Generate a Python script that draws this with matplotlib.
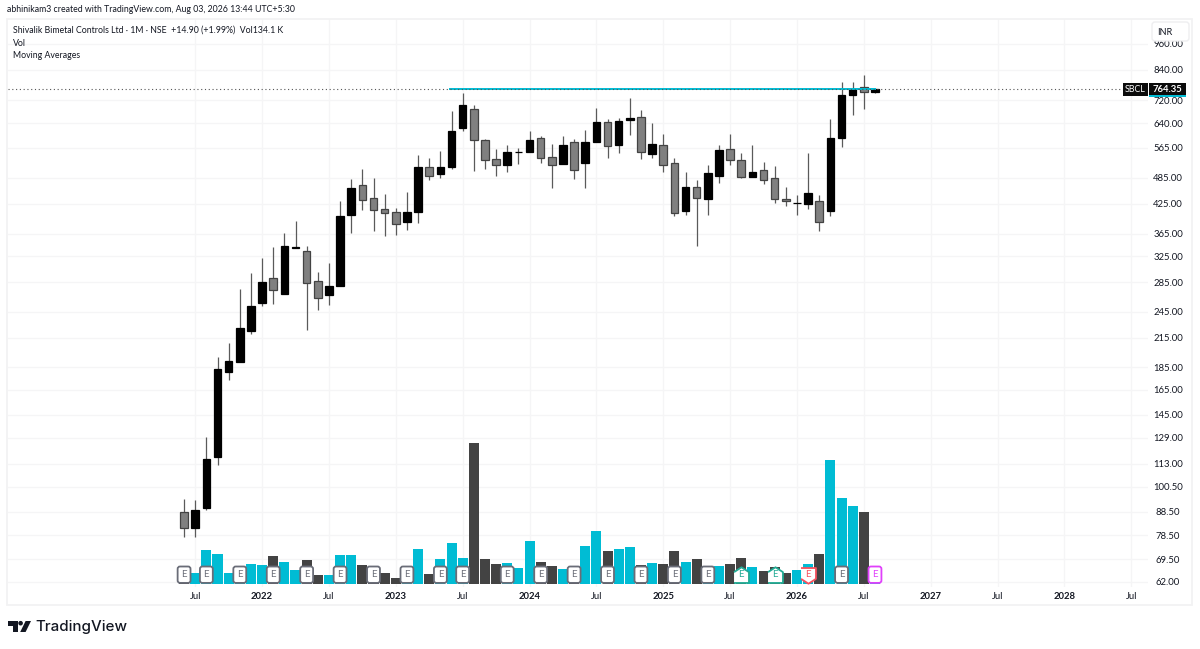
"""Monthly SBCL candles with volume, redrawn from a TradingView snapshot."""
import matplotlib
matplotlib.use("Agg")
import matplotlib.pyplot as plt
import numpy as np
from matplotlib.patches import Circle, FancyBboxPatch, Polygon, Rectangle

plt.rcParams["font.family"] = ["Lato", "DejaVu Sans"]

W, H = 1200, 649

# monthly candles, Jun 2021 .. Aug 2026
opens = [88.4, 81.7, 90.1, 116.8, 180.6, 190.3, 222.5, 256.9, 291.8, 268, 340, 334.8, 287.4,
         267, 279.8, 400.5, 467.5, 437, 414.6, 407, 387.5, 407.8, 512, 495.5, 512.6, 624.4,
         688, 589, 533, 518, 553, 553.4, 593, 538, 521.5, 582, 524, 582, 643, 572.5, 651.3,
         660.5, 546.5, 572.5, 523, 410, 463.7, 436, 490.3, 561, 530.5, 486.5, 504, 485, 435,
         426.5, 425, 432, 410, 593, 739.7, 769, 750]
highs = [94.6, 94, 129.5, 194.9, 208.9, 276, 298.4, 322.2, 340.7, 367, 389.5, 342.8, 300,
         315, 430.5, 482.4, 507.5, 485.5, 445.5, 415.5, 451, 545, 537.5, 557, 680, 748.4,
         702.5, 591, 561.8, 572.5, 564, 617, 600, 576.5, 600.7, 590, 619, 692, 654.6, 659,
         729.5, 684, 640.5, 605.7, 537, 499, 480, 517, 574.5, 605.7, 550.5, 574.5, 526.8,
         514.5, 463.7, 445, 550.5, 445, 653.5, 789, 790.2, 817, 768]
lows = [77.7, 77.7, 89.5, 112.1, 173.4, 190, 218.5, 252.7, 255.6, 268, 339, 223.6, 248,
        253.7, 279, 367, 412.5, 370.7, 361, 363, 372.6, 386, 480.6, 484, 506.7, 617,
        503, 508, 489.7, 500.5, 521.5, 553, 524.3, 461, 521, 482.4, 461, 581, 537, 550.5,
        603, 533, 535.3, 500.5, 399.4, 401.5, 343, 401.5, 472, 518, 484, 486, 470,
        426.8, 420.6, 401.5, 414.6, 370, 399, 566, 667.5, 688, 748]
closes = [81.7, 89.4, 116, 183.6, 190.7, 225.5, 252.4, 285.5, 274.5, 342.8, 341, 284.5, 263.6,
          280.1, 399.4, 460.6, 433.4, 411.3, 406.2, 383, 408.4, 513.5, 490.3, 513.5, 617, 702.5,
          587.3, 530.5, 518, 553.4, 554, 589, 537, 518, 574.5, 505, 581, 644, 569.5, 648, 656.7,
          553, 576.5, 519, 406.2, 462, 438.5, 496.5, 559, 530.5, 486.5, 499.8, 479, 436, 430,
          427.5, 448.4, 387.5, 595, 739.7, 761.4, 749.45, 764.35]
# thousands of shares, estimated
volumes = [900, 1050, 3090, 2700, 1050, 1560, 1800, 1710, 2550, 1980, 1290, 2160, 840,
           840, 2640, 2640, 1710, 1080, 1020, 540, 1080, 3180, 900, 2250, 3750, 2370,
           12690, 2250, 1830, 1890, 1500, 3900, 2040, 1650, 1380, 1650, 3450, 4770, 3030,
           3180, 3360, 1710, 1920, 1830, 2970, 2040, 2310, 990, 1650, 1800, 2370, 1590,
           1230, 1560, 1050, 1320, 1830, 2760, 11160, 7740, 7020, 6540, 134.1]

price_ticks = [62, 69.5, 78.5, 88.5, 100.5, 113, 129, 145, 165, 185, 215, 245, 285, 325,
               365, 425, 485, 565, 640, 720, 840, 960]
time_labels = ["Jul", "2022", "Jul", "2023", "Jul", "2024", "Jul", "2025", "Jul", "2026",
               "Jul", "2027", "Jul", "2028", "Jul"]
time_ticks = [1, 7, 13, 19, 25, 31, 37, 43, 49, 55, 61, 67, 73, 79, 85]

# earnings flags: candle index and kind
earn_plain = [0, 2, 5, 8, 11, 14, 17, 20, 23, 25, 29, 32, 35, 38, 41, 44, 47, 59]
earn_beat = [50, 53]
earn_miss = [56]
earn_next = [62]

last_price = 764.35
level_price = 764.35
level_span = [23.9, 62]

GRID = "#f5f5f6"
TEXT = "#131722"
CYAN = "#00bcd4"
DARK = "#434343"
GREY = "#808080"


def fx(px):
    return px / W


def fy(py):
    return 1 - py / H


L, R, T, B = 8, 1148, 19, 587
fig = plt.figure(figsize=(W / 100, H / 100), dpi=100, facecolor="white")
ax = fig.add_axes([fx(L), fy(B), (R - L) / W, (B - T) / H])
ax.set_facecolor("none")
vol_ax = ax.twinx()
vol_ax.set_facecolor("none")

x = np.arange(len(opens))

# price pane
ax.set_yscale("log")
ax.set_ylim(60.35, 1089)
ax.set_xlim(-15.8, 86.5)
ax.yaxis.tick_right()
ax.set_yticks(price_ticks, [f"{p:.2f}" for p in price_ticks])
ax.minorticks_off()
ax.set_xticks(time_ticks, time_labels)
ax.tick_params(axis="y", length=0, pad=14.4, labelsize=6.8, labelcolor=TEXT)
ax.tick_params(axis="x", length=0, pad=3.5, labelsize=6.8, labelcolor=TEXT)
for lab in ax.get_yticklabels():
    lab.set_ha("center")
for lab in ax.get_xticklabels():
    if lab.get_text() != "Jul":
        lab.set_fontweight("bold")
ax.grid(True, color=GRID, lw=1)
ax.set_axisbelow(True)
for s in ax.spines.values():
    s.set_visible(False)

for i in x:
    up = closes[i] >= opens[i]
    lo, hi = min(opens[i], closes[i]), max(opens[i], closes[i])
    ax.vlines(i, lows[i], highs[i], color="#5a5a5a", lw=0.9, zorder=3)
    ax.bar(i, hi - lo, bottom=lo, width=0.68, color="black" if up else GREY,
           edgecolor="black" if up else DARK, lw=0.9, zorder=4)

# level drawn on the chart and the last price line
ax.plot(level_span, [level_price, level_price], color=CYAN, lw=1.4, zorder=5)
ax.axhline(last_price, xmax=0.978, color="#555555", lw=0.8, ls=(0, (1, 2.4)), zorder=6)

# volume on its own linear scale, bars sit at the bottom of the pane
vol_ax.set_ylim(-240, 50877)
vol_ax.bar(x, volumes, width=0.9,
           color=[CYAN if c >= o else DARK for o, c in zip(opens, closes)], lw=0)
vol_ax.yaxis.set_visible(False)
for s in vol_ax.spines.values():
    s.set_visible(False)

# earnings flags
flag_y = (B - 574.7) / (B - T)
flag_tf = vol_ax.get_xaxis_transform()
HOUSE_UP = [(-1, -1), (1, -1), (1, 0.45), (0, 1.1), (-1, 0.45)]
HOUSE_DOWN = [(-1, 1), (1, 1), (1, -0.45), (0, -1.1), (-1, -0.45)]


def flag(i, colour, marker=None):
    if marker is None:
        vol_ax.text(i, flag_y, "E", transform=flag_tf, ha="center", va="center", fontsize=7,
                    color=colour, zorder=7,
                    bbox=dict(boxstyle="round,pad=0.38,rounding_size=0.25", fc="white",
                              ec=colour, lw=1.3))
    else:
        vol_ax.scatter([i], [flag_y], marker=marker, s=140, facecolor="white", edgecolor=colour,
                       lw=1.3, transform=flag_tf, zorder=7, clip_on=False)
        vol_ax.text(i, flag_y, "E", transform=flag_tf, ha="center", va="center", fontsize=7,
                    color=colour, zorder=8)


for i in earn_plain:
    flag(i, "#6a6d78")
for i in earn_beat:
    flag(i, "#22ab94", HOUSE_UP)
for i in earn_miss:
    flag(i, "#f7525f", HOUSE_DOWN)
for i in earn_next:
    flag(i, "#e040fb")

# chrome: pane border, header, price tags, currency box, logo
fig.add_artist(Rectangle((fx(7), fy(605)), 1185 / W, 586 / H, fill=False, ec="#f2f2f3", lw=1.3,
                         transform=fig.transFigure))
fig.text(fx(7), fy(10), "abhinikam3 created with TradingView.com, Aug 03, 2026 13:44 UTC+5:30",
         fontsize=6.35, color=TEXT, va="center")
fig.text(fx(13), fy(30), "Shivalik Bimetal Controls Ltd · 1M · NSE  +14.90 (+1.99%)  Vol134.1 K",
         fontsize=6.3, color=TEXT, va="center")
fig.text(fx(13), fy(43), "Vol", fontsize=6.3, color=TEXT, va="center")
fig.text(fx(13), fy(55.5), "Moving Averages", fontsize=6.3, color=TEXT, va="center")

fig.add_artist(Rectangle((fx(1123), fy(96)), 25 / W, 13 / H, fc="#0b0b0b", ec="none", zorder=6,
                         transform=fig.transFigure))
fig.add_artist(Rectangle((fx(1149), fy(96)), 37 / W, 13 / H, fc="#0b0b0b", ec="none", zorder=6,
                         transform=fig.transFigure))
fig.add_artist(Rectangle((fx(1149), fy(96.6)), 37 / W, 1.2 / H, fc=CYAN, ec="none", zorder=7,
                         transform=fig.transFigure))
fig.text(fx(1135.5), fy(89.5), "SBCL", color="white", fontsize=6.4, ha="center", va="center", zorder=8)
fig.text(fx(1167.5), fy(89.5), "764.35", color="white", fontsize=6.8, ha="center", va="center",
         fontweight="bold", zorder=8)

box = FancyBboxPatch((1152, H - 41), 37, 19, boxstyle="round,pad=0,rounding_size=3",
                     fc="white", ec="#eeeef0", lw=1, transform=None, zorder=6)
fig.add_artist(box)
fig.text(fx(1165), fy(32.5), "INR", color=TEXT, fontsize=6.6, ha="center", va="center", zorder=8)

px_tf = None
logo = [
    Polygon([(8.3, H - 621), (17.8, H - 621), (17.8, H - 632), (13.2, H - 632), (13.2, H - 625.6), (8.3, H - 625.6)],
            fc="#131722", ec="none", transform=px_tf),
    Circle((20.6, H - 623.2), 2.3, fc="#131722", ec="none", transform=px_tf),
    Polygon([(25.6, H - 621), (31, H - 621), (25.6, H - 632), (20.2, H - 632)], fc="#131722", ec="none",
            transform=px_tf),
]
for patch in logo:
    fig.add_artist(patch)
fig.text(fx(35), fy(627), "TradingView", fontsize=10.9, color=TEXT, va="center",
         family=["Inter", "DejaVu Sans"], fontweight="medium")

fig.savefig("out.png", dpi=100)
